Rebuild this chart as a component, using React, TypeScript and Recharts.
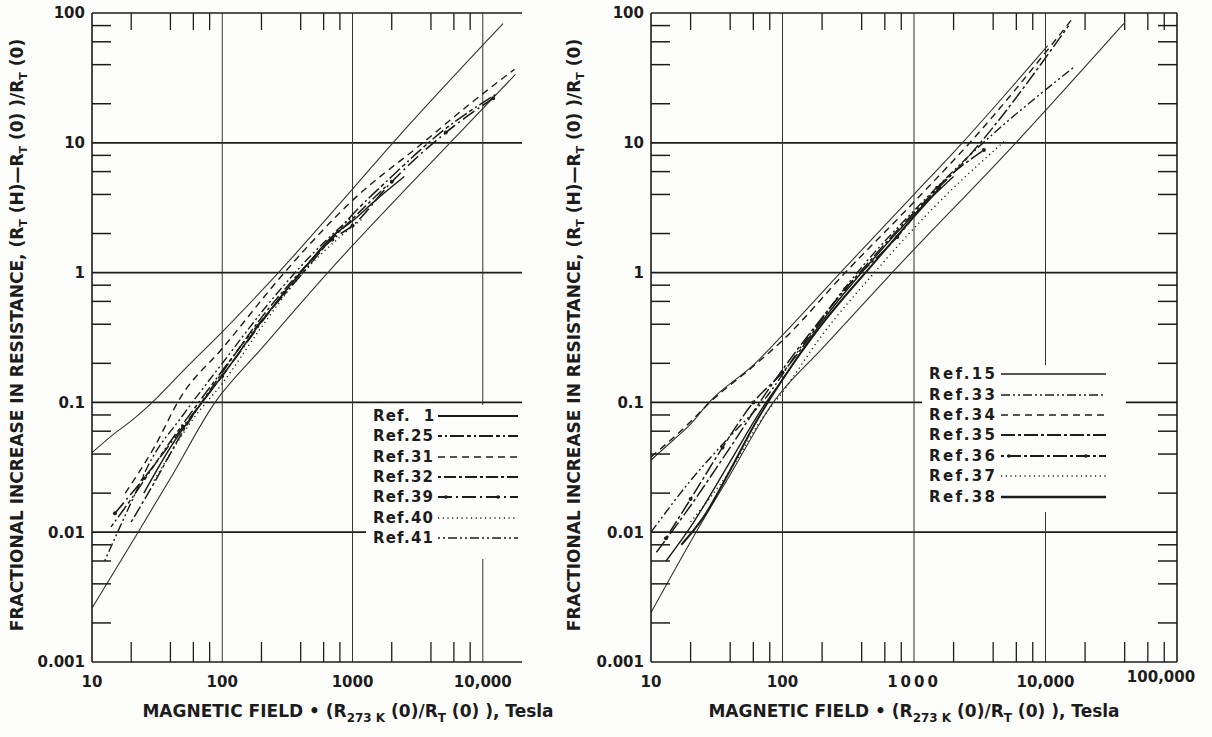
import React from "react";
import { LineChart, Line, XAxis, YAxis, ReferenceLine, Legend } from "recharts";

type Pt = [number, number];

// ---------- left panel ----------
const leftUpper: Pt[] = [[10, 0.041], [15, 0.058], [20, 0.072], [29, 0.1], [50, 0.175], [100, 0.35], [270, 1], [1000, 4.4], [2040, 10], [14300, 83]];
const leftLower: Pt[] = [[10, 0.0026], [22.6, 0.01], [40, 0.026], [88, 0.1], [200, 0.26], [646, 1], [5600, 10], [17800, 33.6]];
const ref1: Pt[] = [[25, 0.02], [40, 0.045], [70, 0.1], [100, 0.16], [200, 0.42], [400, 1.0], [700, 1.9], [1000, 2.5], [1500, 3.6], [2500, 5.5]];
const ref25: Pt[] = [[14, 0.011], [20, 0.018], [40, 0.05], [80, 0.13], [150, 0.3], [400, 0.95], [1000, 2.8], [2000, 5.5], [5000, 12.5], [12500, 23.5]];
const ref31: Pt[] = [[18, 0.02], [30, 0.045], [48, 0.11], [100, 0.26], [300, 1.0], [1000, 3.6], [3470, 10], [8000, 20], [17500, 36.8]];
const ref32: Pt[] = [[20, 0.012], [30, 0.024], [50, 0.06], [100, 0.17], [200, 0.45], [500, 1.3], [1000, 2.6], [1800, 4.6]];
const ref39: Pt[] = [[15, 0.014], [25, 0.026], [50, 0.065], [100, 0.16], [300, 0.7], [700, 1.8], [1000, 2.3], [2000, 5.0], [5200, 12], [12000, 22]];
const ref40: Pt[] = [[30, 0.025], [60, 0.075], [100, 0.14], [200, 0.38], [378, 0.89], [810, 1.9], [1200, 2.6]];
const ref41: Pt[] = [[12.5, 0.006], [20, 0.017], [28, 0.035], [50, 0.08], [100, 0.2], [250, 0.65], [600, 1.7], [1000, 2.7]];

// ---------- right panel ----------
const rightUpper: Pt[] = [[10, 0.036], [15, 0.052], [20, 0.068], [27.6, 0.1], [62, 0.2], [100, 0.33], [276, 1], [1000, 4.0], [2330, 10], [10400, 56]];
const rightLower: Pt[] = [[10, 0.0024], [22, 0.01], [40, 0.0277], [85, 0.1], [200, 0.26], [682, 1], [5950, 10], [39400, 83]];
const ref15: Pt[] = [[13, 0.006], [20, 0.011], [40, 0.035], [70, 0.09], [100, 0.15], [200, 0.42], [500, 1.3], [1000, 2.8], [2000, 5.5]];
const ref33: Pt[] = [[10, 0.01], [20, 0.025], [40, 0.055], [70, 0.1], [150, 0.3], [400, 1.1], [1000, 3.0], [3000, 9], [16200, 37.8]];
const ref34: Pt[] = [[10, 0.038], [20, 0.071], [28, 0.1], [60, 0.19], [100, 0.3], [300, 1.0], [1000, 3.5], [3000, 11.5], [15700, 88]];
const ref35: Pt[] = [[11, 0.007], [20, 0.016], [40, 0.045], [80, 0.13], [200, 0.45], [500, 1.35], [1000, 2.9], [2500, 7.5], [15000, 80]];
const ref36: Pt[] = [[13, 0.009], [20, 0.018], [35, 0.045], [60, 0.1], [100, 0.17], [300, 0.75], [745, 1.88], [1500, 4.5], [3400, 8.8]];
const ref37: Pt[] = [[20, 0.012], [40, 0.03], [70, 0.075], [100, 0.12], [200, 0.33], [500, 1.0], [1000, 2.2], [2000, 4.5], [5000, 10.5]];
const ref38: Pt[] = [[17, 0.008], [25, 0.013], [40, 0.03], [60, 0.065], [100, 0.15], [200, 0.4], [500, 1.2], [1000, 2.7], [1600, 4.6]];

// ---------- axes ----------
const leftXTicks = [10, 20, 40, 60, 80, 100, 200, 400, 600, 800, 1000, 2000, 4000, 6000, 8000, 10000];
const rightXTicks = [10, 20, 40, 60, 80, 100, 200, 400, 600, 800, 1000, 2000, 4000, 6000, 8000, 10000, 20000, 40000, 60000, 80000, 100000];
const yTicks = [0.001, 0.002, 0.004, 0.006, 0.008, 0.01, 0.02, 0.04, 0.06, 0.08, 0.1, 0.2, 0.4, 0.6, 0.8, 1, 2, 4, 6, 8, 10, 20, 40, 60, 80, 100];
const xTickLabels: Record<number, string> = { 10: "10", 100: "100", 1000: "1000", 10000: "10,000", 100000: "100,000" };
const yTickLabels: Record<number, string> = { 0.001: "0.001", 0.01: "0.01", 0.1: "0.1", 1: "1", 10: "10", 100: "100" };
const yGrid = [0.01, 0.1, 1, 10];
const xGrid = [100, 1000, 10000];

const FONT = "'DejaVu Sans', sans-serif";
const INK = "#1c1c1c";

type Series = { name: string; data: Pt[]; dash?: string; width: number; dots?: boolean };

const leftSeries: Series[] = [
  { name: "Ref.\u00a0\u00a01", data: ref1, width: 1.5 },
  { name: "Ref.25", data: ref25, dash: "4 3 2 3 14 3", width: 1.5 },
  { name: "Ref.31", data: ref31, dash: "7 5", width: 1.4 },
  { name: "Ref.32", data: ref32, dash: "3 3 12 3", width: 1.5 },
  { name: "Ref.39", data: ref39, dash: "14 4 2 4", width: 1.6, dots: true },
  { name: "Ref.40", data: ref40, dash: "1.2 3.5", width: 1.4 },
  { name: "Ref.41", data: ref41, dash: "2 3 2 3 9 3", width: 1.4 },
];

const rightSeries: Series[] = [
  { name: "Ref.15", data: ref15, width: 1.4 },
  { name: "Ref.33", data: ref33, dash: "9 3 2 3 2 3", width: 1.4 },
  { name: "Ref.34", data: ref34, dash: "7 5", width: 1.4 },
  { name: "Ref.35", data: ref35, dash: "14 3 3 3", width: 1.5 },
  { name: "Ref.36", data: ref36, dash: "3 3 14 3", width: 1.5, dots: true },
  { name: "Ref.37", data: ref37, dash: "1.2 3.5", width: 1.4 },
  { name: "Ref.38", data: ref38, width: 2 },
];

const toPts = (s: Pt[]) => s.map(([x, y]) => ({ x, y }));

const labelStyle = { fontFamily: FONT, fontWeight: 700, fontSize: 15, fill: INK };

function bottomTick(spacedThousand: boolean) {
  return (props: any) => {
    const { x, y, payload } = props;
    const v = payload.value;
    const label = xTickLabels[v];
    if (label === undefined) {
      return <line x1={x} x2={x} y1={y} y2={y - 20} stroke={INK} strokeWidth={1.3} />;
    }
    const last = v === 100000;
    return (
      <text x={last ? x - 16 : x} y={last ? y + 20 : y + 25} textAnchor="middle" letterSpacing={spacedThousand && v === 1000 ? 3 : 0} {...labelStyle}>
        {label}
      </text>
    );
  };
}

const topTick = (props: any) => {
  const { x, y, payload } = props;
  if (xTickLabels[payload.value] !== undefined) return <g />;
  return <line x1={x} x2={x} y1={y} y2={y + 17} stroke={INK} strokeWidth={1.3} />;
};

const leftTick = (props: any) => {
  const { x, y, payload } = props;
  const label = yTickLabels[payload.value];
  if (label === undefined) {
    return <line x1={x} x2={x + 19} y1={y} y2={y} stroke={INK} strokeWidth={1.5} />;
  }
  return (
    <text x={x - 7} y={y} dy="0.36em" textAnchor="end" {...labelStyle}>
      {label}
    </text>
  );
};

const rightTick = (props: any) => {
  const { x, y, payload } = props;
  if (yTickLabels[payload.value] !== undefined) return <g />;
  return <line x1={x} x2={x - 19} y1={y} y2={y} stroke={INK} strokeWidth={1.5} />;
};

function YTitle({ cx, cy }: { cx: number; cy: number }) {
  return (
    <text x={cx} y={cy} transform={`rotate(-90 ${cx} ${cy})`} textAnchor="middle" dy="0.35em" fontFamily={FONT} fontWeight={700} fontSize={17} fill={INK}>
      FRACTIONAL INCREASE IN RESISTANCE, (R
      <tspan fontSize={11} dy={4}>T</tspan>
      <tspan dy={-4}> (H)—R</tspan>
      <tspan fontSize={11} dy={4}>T</tspan>
      <tspan dy={-4}> (0) )/R</tspan>
      <tspan fontSize={11} dy={4}>T</tspan>
      <tspan dy={-4}> (0)</tspan>
    </text>
  );
}

function XTitle({ cx }: { cx: number }) {
  return (
    <text x={cx} y={717} textAnchor="middle" fontFamily={FONT} fontWeight={700} fontSize={17} fill={INK}>
      MAGNETIC FIELD • (R
      <tspan fontSize={12} dy={5}>273 K</tspan>
      <tspan dy={-5}> (0)/R</tspan>
      <tspan fontSize={12} dy={5}>T</tspan>
      <tspan dy={-5}> (0) ), Tesla</tspan>
    </text>
  );
}

type Box = { left: number; top: number; width: number; height: number; textX: number; lineX1: number; lineX2: number; rows: number[]; spacing: number };

function LegendBox({ items, box }: { items: Series[]; box: Box }) {
  return (
    <svg width={box.width} height={box.height} style={{ display: "block", background: "#fdfdfb" }}>
      {items.map((s, i) => (
        <g key={s.name}>
          <text x={box.textX} y={box.rows[i]} dy="0.36em" fontFamily={FONT} fontWeight={700} fontSize={15} letterSpacing={box.spacing} fill={INK}>
            {s.name}
          </text>
          <line x1={box.lineX1} x2={box.lineX2} y1={box.rows[i]} y2={box.rows[i]} stroke={INK} strokeWidth={s.width + 0.3} strokeDasharray={s.dash} />
          {s.dots && (
            <>
              <circle cx={box.lineX1 + 8} cy={box.rows[i]} r={1.8} fill={INK} />
              <circle cx={box.lineX2 - 20} cy={box.rows[i]} r={1.8} fill={INK} />
            </>
          )}
        </g>
      ))}
    </svg>
  );
}

type PanelProps = {
  width: number;
  plotLeft: number;
  plotRight: number;
  xDomain: [number, number];
  xTicks: number[];
  bounds: Pt[][];
  series: Series[];
  box: Box;
  rightAxis: boolean;
  yTitleX: number;
  titleCx: number;
  spacedThousand: boolean;
};

function Panel(p: PanelProps) {
  const rightW = p.rightAxis ? 10 : 0;
  const axisLine = { stroke: INK, strokeWidth: 1.6 };
  return (
    <LineChart width={p.width} height={737} margin={{ top: 3, right: p.width - p.plotRight - rightW, bottom: 45, left: 0 }}>
      <XAxis
        dataKey="x"
        type="number"
        scale="log"
        domain={p.xDomain}
        allowDataOverflow
        ticks={p.xTicks}
        interval={0}
        tickSize={0}
        tickMargin={0}
        tickLine={false}
        height={30}
        axisLine={axisLine}
        tick={bottomTick(p.spacedThousand)}
        label={<XTitle cx={p.titleCx} />}
      />
      <XAxis
        xAxisId="top"
        orientation="top"
        dataKey="x"
        type="number"
        scale="log"
        domain={p.xDomain}
        allowDataOverflow
        ticks={p.xTicks}
        interval={0}
        tickSize={0}
        tickMargin={0}
        tickLine={false}
        height={10}
        axisLine={axisLine}
        tick={topTick}
      />
      <YAxis
        type="number"
        scale="log"
        domain={[0.001, 100]}
        allowDataOverflow
        ticks={yTicks}
        interval={0}
        width={p.plotLeft}
        tickSize={0}
        tickMargin={0}
        tickLine={false}
        axisLine={axisLine}
        tick={leftTick}
        label={<YTitle cx={p.yTitleX} cy={335} />}
      />
      {p.rightAxis && (
        <YAxis
          yAxisId="right"
          orientation="right"
          type="number"
          scale="log"
          domain={[0.001, 100]}
          allowDataOverflow
          ticks={yTicks}
          interval={0}
          width={rightW}
          tickSize={0}
          tickMargin={0}
          tickLine={false}
          axisLine={axisLine}
          tick={rightTick}
        />
      )}
      {yGrid.map((v) => (
        <ReferenceLine key={`h${v}`} y={v} stroke={INK} strokeWidth={1.8} />
      ))}
      {xGrid.map((v) => (
        <ReferenceLine key={`v${v}`} x={v} stroke="#333" strokeWidth={1} />
      ))}
      {p.bounds.map((b, i) => (
        <Line key={`b${i}`} data={toPts(b)} dataKey="y" type="monotone" stroke="#333" strokeWidth={1.1} dot={false} legendType="none" isAnimationActive={false} />
      ))}
      {p.series.map((s) => (
        <Line
          key={s.name}
          name={s.name}
          data={toPts(s.data)}
          dataKey="y"
          type="monotone"
          stroke={INK}
          strokeWidth={s.width}
          strokeDasharray={s.dash}
          dot={s.dots ? { r: 2, fill: INK, stroke: "none" } : false}
          isAnimationActive={false}
        />
      ))}
      <Legend
        layout="vertical"
        align="center"
        verticalAlign="middle"
        content={() => <LegendBox items={p.series} box={p.box} />}
        wrapperStyle={{ position: "absolute", left: p.box.left, top: p.box.top, width: p.box.width, height: p.box.height }}
      />
    </LineChart>
  );
}

const leftBox: Box = { left: 366, top: 405, width: 156, height: 154, textX: 7, lineX1: 72, lineX2: 152, rows: [11, 31, 52, 72, 92, 113, 133], spacing: 1.2 };
const rightBox: Box = { left: 362, top: 365, width: 204, height: 147, textX: 7, lineX1: 79, lineX2: 184, rows: [9, 30, 50, 70, 91, 111, 132], spacing: 2.4 };

export default function App() {
  return (
    <div style={{ position: "absolute", left: 0, top: 0, width: 1212, height: 737, background: "#fdfdfb", overflow: "hidden" }}>
      <div style={{ position: "absolute", left: 0, top: 0 }}>
        <Panel
          width={560}
          plotLeft={92}
          plotRight={522}
          xDomain={[10, 20000]}
          xTicks={leftXTicks}
          bounds={[leftUpper, leftLower]}
          series={leftSeries}
          box={leftBox}
          rightAxis={false}
          yTitleX={17}
          titleCx={348}
          spacedThousand={false}
        />
      </div>
      <div style={{ position: "absolute", left: 560, top: 0 }}>
        <Panel
          width={652}
          plotLeft={91}
          plotRight={617}
          xDomain={[10, 100000]}
          xTicks={rightXTicks}
          bounds={[rightUpper, rightLower]}
          series={rightSeries}
          box={rightBox}
          rightAxis={true}
          yTitleX={14}
          titleCx={354}
          spacedThousand={true}
        />
      </div>
    </div>
  );
}
